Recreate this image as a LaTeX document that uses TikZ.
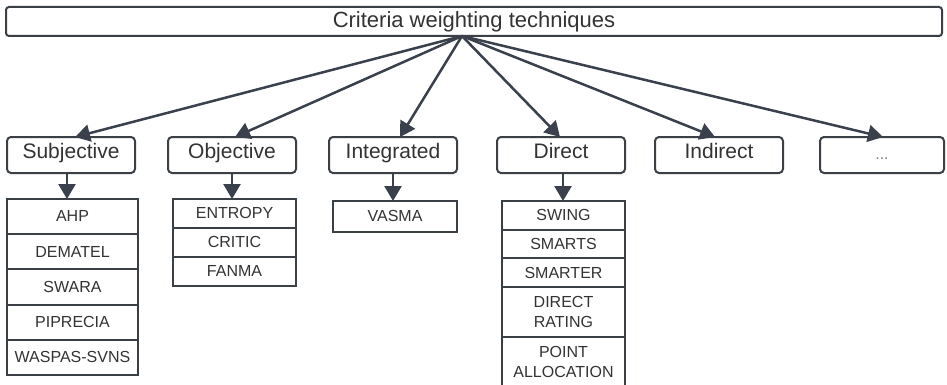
\documentclass[tikz,border=0pt]{standalone}
\usepackage{fontspec}
\setmainfont{Liberation Sans}
\usetikzlibrary{arrows.meta}
\definecolor{ln}{HTML}{3B3F46}
\definecolor{ar}{HTML}{3A414C}
\definecolor{tx}{HTML}{333333}
\begin{document}
\begin{tikzpicture}[x=1pt,y=-1pt,
  cat/.style={draw=ln,line width=2pt,rounded corners=4pt,inner sep=0pt,outer sep=0pt,
    minimum width=128pt,minimum height=36pt,font=\fontsize{21}{24}\selectfont,text=tx,
    text height=15pt,text depth=8pt},
  cell/.style={draw=ln,line width=2pt,inner sep=0pt,outer sep=0pt,anchor=north,
    font=\fontsize{16}{19.5}\selectfont,text=tx,align=center},
  one/.style={text height=11.5pt,text depth=1pt},
  arr/.style={draw=ar,line width=2.5pt,-{Triangle[width=17pt,length=15pt]}},
]
\useasboundingbox (0,0) rectangle (947,385);
\fill[white] (0,0) rectangle (947,385);
% top
\node[draw=ln,line width=2pt,rounded corners=3pt,inner sep=0pt,outer sep=0pt,
  minimum width=936pt,minimum height=29pt,font=\fontsize{22}{26}\selectfont,text=tx]
  (top) at (474,21.5) {Criteria weighting techniques};
\coordinate (o) at (462,36);
% categories
\node[cat] (sub) at (71,155) {Subjective};
\node[cat] (obj) at (232,155) {Objective};
\node[cat] (int) at (393,155) {Integrated};
\node[cat] (dir) at (561,155) {Direct};
\node[cat] (ind) at (719,155) {Indirect};
\node[cat,minimum width=124pt,text=gray,font=\fontsize{16}{19}\selectfont,text height=12pt,text depth=4pt] (dots) at (882,155) {...};
% arrows from top
\draw[arr] (o) -- ([xshift=4pt]sub.north);
\draw[arr] (o) -- ([xshift=3pt]obj.north);
\draw[arr] (o) -- ([xshift=7pt]int.north);
\draw[arr] (o) -- ([xshift=-1pt]dir.north);
\draw[arr] (o) -- ([xshift=-4pt]ind.north);
\draw[arr] (o) -- ([xshift=1pt]dots.north);
% subjective list
\node[cell,one,minimum width=131pt,minimum height=35.2pt] (s1) at (72.5,199) {AHP};
\node[cell,one,minimum width=131pt,minimum height=35.2pt] (s2) at (s1.south) {DEMATEL};
\node[cell,one,minimum width=131pt,minimum height=35.2pt] (s3) at (s2.south) {SWARA};
\node[cell,one,minimum width=131pt,minimum height=35.2pt] (s4) at (s3.south) {PIPRECIA};
\node[cell,one,minimum width=131pt,minimum height=35.2pt] (s5) at (s4.south) {WASPAS-SVNS};
% objective list
\node[cell,one,minimum width=123pt,minimum height=29pt] (o1) at (234.5,199) {ENTROPY};
\node[cell,one,minimum width=123pt,minimum height=29pt] (o2) at (o1.south) {CRITIC};
\node[cell,one,minimum width=123pt,minimum height=29pt] (o3) at (o2.south) {FANMA};
% integrated
\node[cell,one,minimum width=124pt,minimum height=31pt] (i1) at (395,201) {VASMA};
% direct list
\node[cell,one,minimum width=123pt,minimum height=28.7pt] (d1) at (563.5,201) {SWING};
\node[cell,one,minimum width=123pt,minimum height=28.7pt] (d2) at (d1.south) {SMARTS};
\node[cell,one,minimum width=123pt,minimum height=28.7pt] (d3) at (d2.south) {SMARTER};
\node[cell,minimum width=123pt,minimum height=50pt] (d4) at (d3.south) {DIRECT\\RATING};
\node[cell,minimum width=123pt,minimum height=50pt] (d5) at (d4.south) {POINT\\ALLOCATION};
% down arrows
\draw[arr] ([xshift=-4pt]sub.south) -- ([xshift=-4pt]sub.south |- s1.north);
\draw[arr] (obj.south) -- (obj.south |- o1.north);
\draw[arr] (int.south) -- (int.south |- i1.north);
\draw[arr] ([xshift=2pt]dir.south) -- ([xshift=2pt]dir.south |- d1.north);
\end{tikzpicture}
\end{document}
